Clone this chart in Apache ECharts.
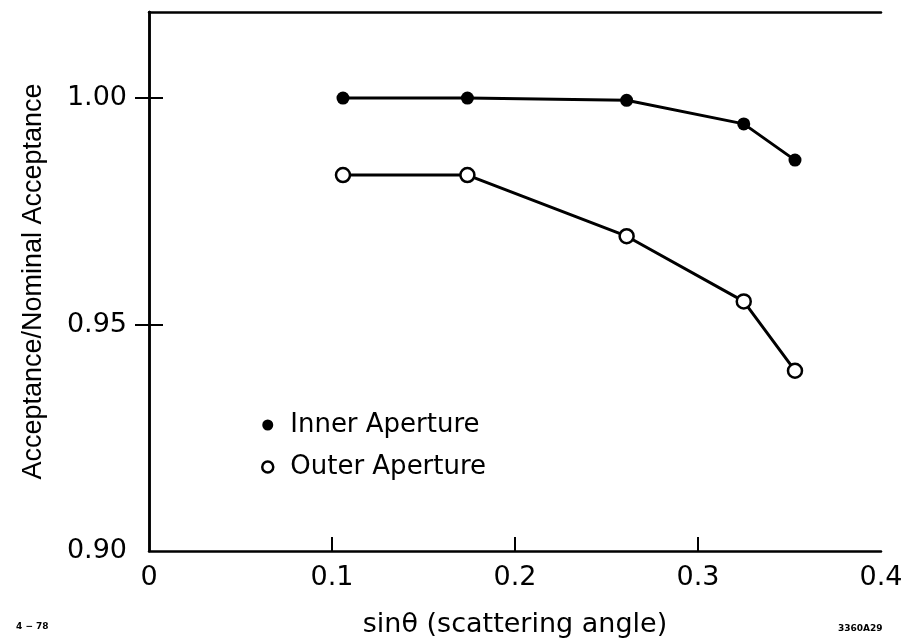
<!DOCTYPE html>
<html>
<head>
<meta charset="utf-8">
<script src="https://cdn.jsdelivr.net/npm/echarts@6/dist/echarts.min.js"></script>
<style>html,body{margin:0;padding:0;background:#fff}#c{width:902px;height:640px}</style>
</head>
<body>
<div id="c"></div>
<script>
const innerX = [0.106, 0.174, 0.261, 0.325, 0.353];
const innerY = [1.000, 1.000, 0.9995, 0.9943, 0.9863];
const outerX = [0.106, 0.174, 0.261, 0.325, 0.353];
const outerY = [0.983, 0.983, 0.9695, 0.9551, 0.9398];
const xTicks = [0, 0.1, 0.2, 0.3, 0.4];
const yTicks = [0.90, 0.95, 1.00];
const seriesNames = ['Inner Aperture', 'Outer Aperture'];
const xTitle = 'sin\u03B8 (scattering angle)';
const yTitle = 'Acceptance/Nominal Acceptance';

const chart = echarts.init(document.getElementById('c'), null, {renderer: 'canvas'});
const axisCol = '#000';
const tickFont = 'DejaVu Sans';
const yMax = 1.019;
const option = {
  backgroundColor: '#fff',
  animation: false,
  grid: {left: 149, right: 21, top: 12, bottom: 89, containLabel: false, outerBoundsMode: 'none'},
  legend: {
    orient: 'vertical', left: 256, top: 407, itemGap: 16,
    itemWidth: 11, itemHeight: 11,
    textStyle: {fontFamily: 'DejaVu Sans', fontSize: 26, color: '#000', padding: [0, 0, 0, 12]},
    data: [
      {name: seriesNames[0], icon: 'circle', itemStyle: {color: '#000', borderWidth: 0}},
      {name: seriesNames[1], icon: 'circle', itemStyle: {color: '#fff', borderColor: '#000', borderWidth: 2.5}}
    ]
  },
  xAxis: [{
    type: 'value', min: xTicks[0], max: xTicks[xTicks.length - 1], interval: 0.1,
    position: 'bottom',
    name: xTitle, nameLocation: 'middle', nameGap: 60,
    nameTextStyle: {fontFamily: 'DejaVu Sans', fontSize: 27, color: '#000'},
    axisLine: {show: true, lineStyle: {color: axisCol, width: 2.5}},
    axisTick: {show: true, inside: true, length: 14, customValues: xTicks.slice(1, -1), lineStyle: {color: axisCol, width: 2}},
    axisLabel: {fontFamily: tickFont, fontSize: 27, color: '#000', margin: 13, customValues: xTicks,
      formatter: v => v === 0 ? '0' : v.toFixed(1)},
    splitLine: {show: false}
  }, {
    type: 'value', min: xTicks[0], max: xTicks[xTicks.length - 1], interval: 0.1,
    position: 'top',
    axisLine: {show: true, lineStyle: {color: axisCol, width: 2.5}},
    axisTick: {show: false}, axisLabel: {show: false}, splitLine: {show: false}
  }],
  yAxis: [{
    type: 'value', min: yTicks[0], max: yMax, interval: 0.05,
    position: 'left',
    name: yTitle, nameLocation: 'middle', nameGap: 102, nameRotate: 90,
    nameTextStyle: {fontFamily: 'Liberation Sans', fontSize: 27, color: '#000'},
    axisLine: {show: true, lineStyle: {color: axisCol, width: 2.5}},
    axisTick: {show: true, inside: true, length: 14, customValues: yTicks.slice(1), lineStyle: {color: axisCol, width: 2}},
    axisLabel: {fontFamily: tickFont, fontSize: 27, color: '#000', margin: 22, customValues: yTicks,
      formatter: v => v.toFixed(2)},
    splitLine: {show: false}
  }, {
    type: 'value', min: yTicks[0], max: yMax, interval: 0.05,
    position: 'right',
    axisLine: {show: true, lineStyle: {color: axisCol, width: 2.5}},
    axisTick: {show: true, inside: true, length: 14, customValues: yTicks.slice(1), lineStyle: {color: axisCol, width: 2}},
    axisLabel: {show: false}, splitLine: {show: false}
  }],
  series: [{
    name: seriesNames[0], type: 'line', xAxisIndex: 0, yAxisIndex: 0,
    data: innerX.map((x, i) => [x, innerY[i]]),
    symbol: 'circle', symbolSize: 13,
    itemStyle: {color: '#000'},
    lineStyle: {color: '#000', width: 3}
  }, {
    name: seriesNames[1], type: 'line', xAxisIndex: 0, yAxisIndex: 0,
    data: outerX.map((x, i) => [x, outerY[i]]),
    symbol: 'circle', symbolSize: 14,
    itemStyle: {color: '#fff', borderColor: '#000', borderWidth: 2.5},
    lineStyle: {color: '#000', width: 3}
  }],
  graphic: [
    {type: 'text', left: 16, top: 622, style: {text: '4 \u2212 78', font: 'bold 9px "DejaVu Sans"', fill: '#000'}},
    {type: 'text', left: 838, top: 624, style: {text: '3360A29', font: 'bold 9px "DejaVu Sans"', fill: '#000'}}
  ]
};
chart.setOption(option);
</script>
</body>
</html>
